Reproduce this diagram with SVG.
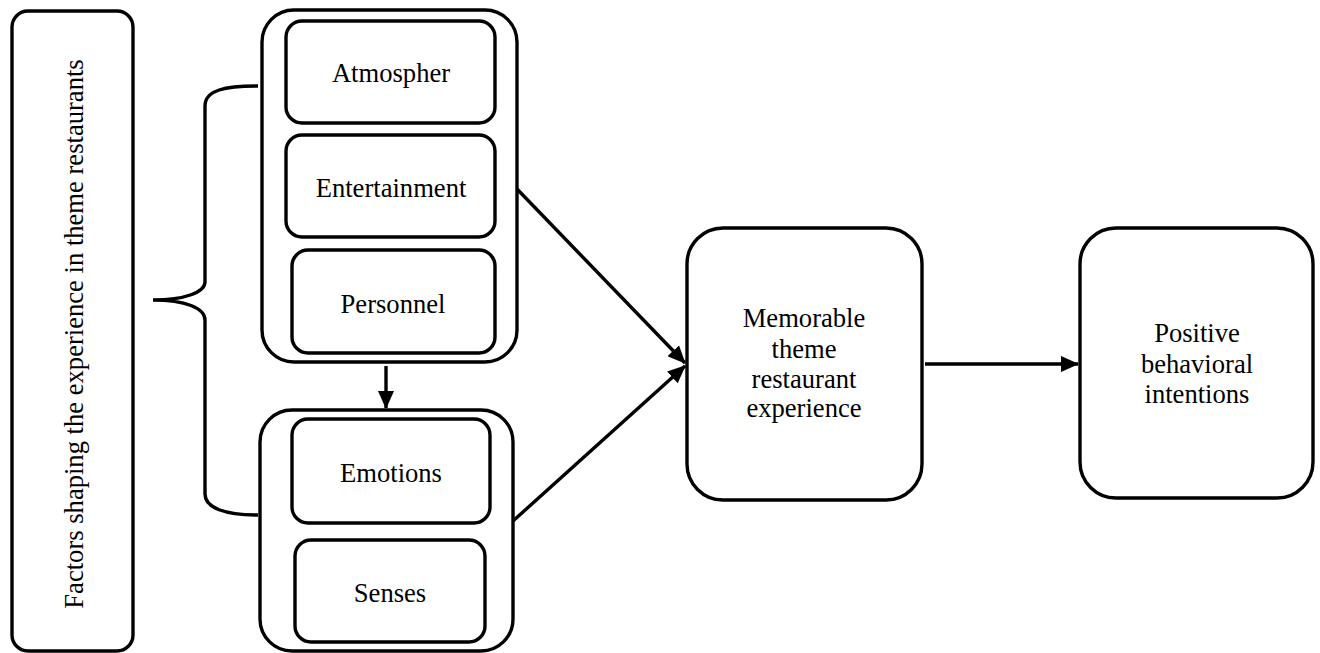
<svg xmlns="http://www.w3.org/2000/svg" width="1320" height="653" viewBox="0 0 1320 653">
<defs>
<style>
.box{fill:#fff;stroke:#000;stroke-width:3.4}
.t{font-family:"Liberation Serif","Times New Roman",serif;font-size:26.6px;fill:#000;text-anchor:middle}
.c{fill:none;stroke:#000;stroke-width:3.4}
</style>
<marker id="ah" markerUnits="userSpaceOnUse" markerWidth="18" markerHeight="16" viewBox="0 0 18 16" refX="17" refY="8" orient="auto">
<path d="M0,0 L18,8 L0,16 Z" fill="#000"/>
</marker>
</defs>
<rect width="1320" height="653" fill="#fff"/>
<g id="factors">
<rect class="box" x="12" y="11" width="121" height="640" rx="16"/>
<text class="t" transform="translate(83,334) rotate(-90)">Factors shaping the experience in theme restaurants</text>
</g>
<g id="brace">
<path class="c" d="M258,86 C225,86 205,90 205,106 L205,282 C205,292 185,300 153,300 C185,300 205,308 205,320 L205,494 C205,508 225,515 258,515"/>
</g>
<g id="group-top">
<rect class="box" x="262" y="10" width="255" height="352" rx="32"/>
</g>
<g id="atmospher">
<rect class="box" x="286" y="21" width="209" height="102" rx="16"/>
<text class="t" x="391" y="82">Atmospher</text>
</g>
<g id="entertainment">
<rect class="box" x="286" y="135" width="209" height="102" rx="16"/>
<text class="t" x="391" y="197">Entertainment</text>
</g>
<g id="personnel">
<rect class="box" x="292" y="250" width="203" height="103" rx="16"/>
<text class="t" x="393" y="313">Personnel</text>
</g>
<g id="group-bottom">
<rect class="box" x="260" y="410" width="253" height="241" rx="32"/>
</g>
<g id="emotions">
<rect class="box" x="292" y="419" width="198" height="104" rx="16"/>
<text class="t" x="391" y="482">Emotions</text>
</g>
<g id="senses">
<rect class="box" x="295" y="540" width="190" height="102" rx="16"/>
<text class="t" x="390" y="602">Senses</text>
</g>
<g id="memorable">
<rect class="box" x="687" y="228" width="235" height="272" rx="36"/>
<text class="t" x="804" y="327">Memorable</text>
<text class="t" x="804" y="358">theme</text>
<text class="t" x="804" y="388">restaurant</text>
<text class="t" x="804" y="417">experience</text>
</g>
<g id="positive">
<rect class="box" x="1080" y="228" width="233" height="270" rx="36"/>
<text class="t" x="1197" y="342">Positive</text>
<text class="t" x="1197" y="373">behavioral</text>
<text class="t" x="1197" y="403">intentions</text>
</g>
<g id="connectors">
<line class="c" x1="386" y1="366" x2="386" y2="408" marker-end="url(#ah)"/>
<line class="c" x1="517" y1="189" x2="685" y2="363" marker-end="url(#ah)"/>
<line class="c" x1="513" y1="521" x2="685" y2="366" marker-end="url(#ah)"/>
<line class="c" x1="925" y1="364" x2="1078" y2="364" marker-end="url(#ah)"/>
</g>
</svg>
